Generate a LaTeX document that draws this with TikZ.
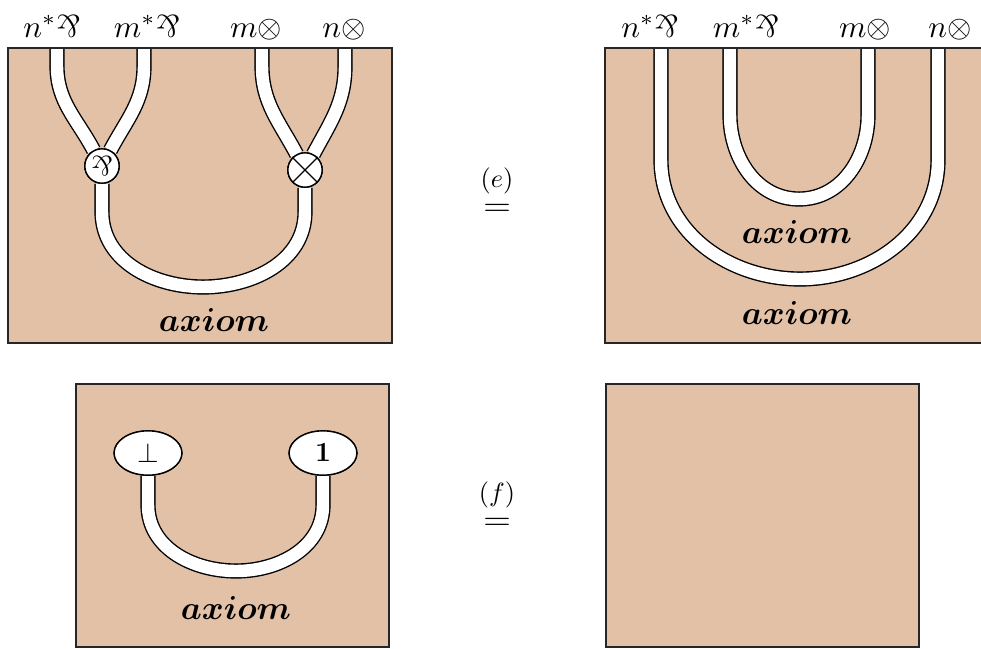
\documentclass[tikz,border=0pt]{standalone}
\usepackage{amsmath,bm,graphicx}
\usetikzlibrary{positioning,shapes.geometric}
\definecolor{sand}{RGB}{226,193,167}
\newcommand{\lpar}{\mathord{\rotatebox[origin=c]{180}{$\&$}}}
\tikzset{
  sheet/.style={fill=sand},
  sheetborder/.style={draw=black!85,line width=0.7pt},
  strand/.style={draw=black,line width=0.5pt,double=white,double distance=4.5pt},
  vertexnode/.style={circle,draw,fill=white,line width=0.5pt,minimum size=12.4pt,inner sep=0pt},
  unitnode/.style={ellipse,draw,fill=white,line width=0.5pt,minimum width=24.5pt,minimum height=16pt,inner sep=0pt},
  wirelabel/.style={anchor=base,inner sep=0pt,scale=1.13},
  axiomlabel/.style={font=\large},
  eqsign/.style={inner sep=0pt,xscale=1.3,yscale=1.1},
  eqtag/.style={inner sep=0pt,scale=0.95}
}
\begin{document}
\begin{tikzpicture}[x=0.0127cm,y=-0.0127cm]
\useasboundingbox (0,0) rectangle (981,648);
% sheets
\fill[sheet] (8,48) rectangle (392,343);
\fill[sheet] (605,48) rectangle (989,343);
\fill[sheet] (76,384) rectangle (389,647);
\fill[sheet] (606,384) rectangle (919,647);
% top left: par and tensor links
\coordinate (a1) at (57,48);
\coordinate (a2) at (144,48);
\coordinate (a3) at (262,48);
\coordinate (a4) at (345,48);
\node[vertexnode] (par) at (102,166) {};
\node[vertexnode] (tens) at (305,170) {};
\draw[strand] (a1) -- (57,66) to[out=-90,in=118] (par);
\draw[strand] (a2) -- (144,66) to[out=-90,in=62] (par);
\draw[strand] (a3) -- (262,66) to[out=-90,in=118] (tens);
\draw[strand] (a4) -- (345,66) to[out=-90,in=62] (tens);
\draw[strand] (par) -- (102,212) to[out=-90,in=180] (203,287) to[out=0,in=-90] (305,212) -- (tens);
\node[vertexnode] at (par) {$\lpar$};
\node[vertexnode] at (tens) {};
\draw[line width=0.5pt] (tens.45) -- (tens.225) (tens.135) -- (tens.-45);
% top right: two axioms
\coordinate (b1) at (661,48);
\coordinate (b2) at (730,48);
\coordinate (b3) at (868,48);
\coordinate (b4) at (938,48);
\draw[strand] (b1) -- (661,160) to[out=-90,in=180] (800,279) to[out=0,in=-90] (938,160) -- (b4);
\draw[strand] (b2) -- (730,115) to[out=-90,in=180] (799,199) to[out=0,in=-90] (868,115) -- (b3);
% bottom left: bot and one
\node[unitnode] (bot) at (148,453) {$\bot$};
\node[unitnode] (one) at (323,453) {$\mathbf{1}$};
\draw[strand] (bot) -- (148,505) to[out=-90,in=180] (236,571) to[out=0,in=-90] (323,505) -- (one);
\node[unitnode] at (bot) {$\bot$};
\node[unitnode] at (one) {$\mathbf{1}$};
% borders
\draw[sheetborder] (8,48) rectangle (392,343);
\draw[sheetborder] (605,48) rectangle (989,343);
\draw[sheetborder] (76,384) rectangle (389,647);
\draw[sheetborder] (606,384) rectangle (919,647);
% labels
\node[wirelabel] (l1) at (52,37) {$n^*\lpar$};
\node[wirelabel] (l2) at (147,37) {$m^*\lpar$};
\node[wirelabel] (l3) at (256,37) {$m\otimes$};
\node[wirelabel] (l4) at (344,37) {$n\otimes$};
\node[wirelabel] (r1) at (650,37) {$n^*\lpar$};
\node[wirelabel] (r2) at (746,37) {$m^*\lpar$};
\node[wirelabel] (r3) at (865,37) {$m\otimes$};
\node[wirelabel] (r4) at (950,37) {$n\otimes$};
\node[axiomlabel] (ax1) at (214,320) {$\bm{axiom}$};
\node[axiomlabel] (ax2) at (797,232) {$\bm{axiom}$};
\node[axiomlabel] (ax3) at (797,313) {$\bm{axiom}$};
\node[axiomlabel] (ax4) at (236,608) {$\bm{axiom}$};
\node[eqsign] (eqe) at (497,210) {$=$};
\node[eqtag] (tage) at (497,181) {$(e)$};
\node[eqsign] (eqf) at (497,524) {$=$};
\node[eqtag] (tagf) at (497,495) {$(f)$};
\end{tikzpicture}
\end{document}
